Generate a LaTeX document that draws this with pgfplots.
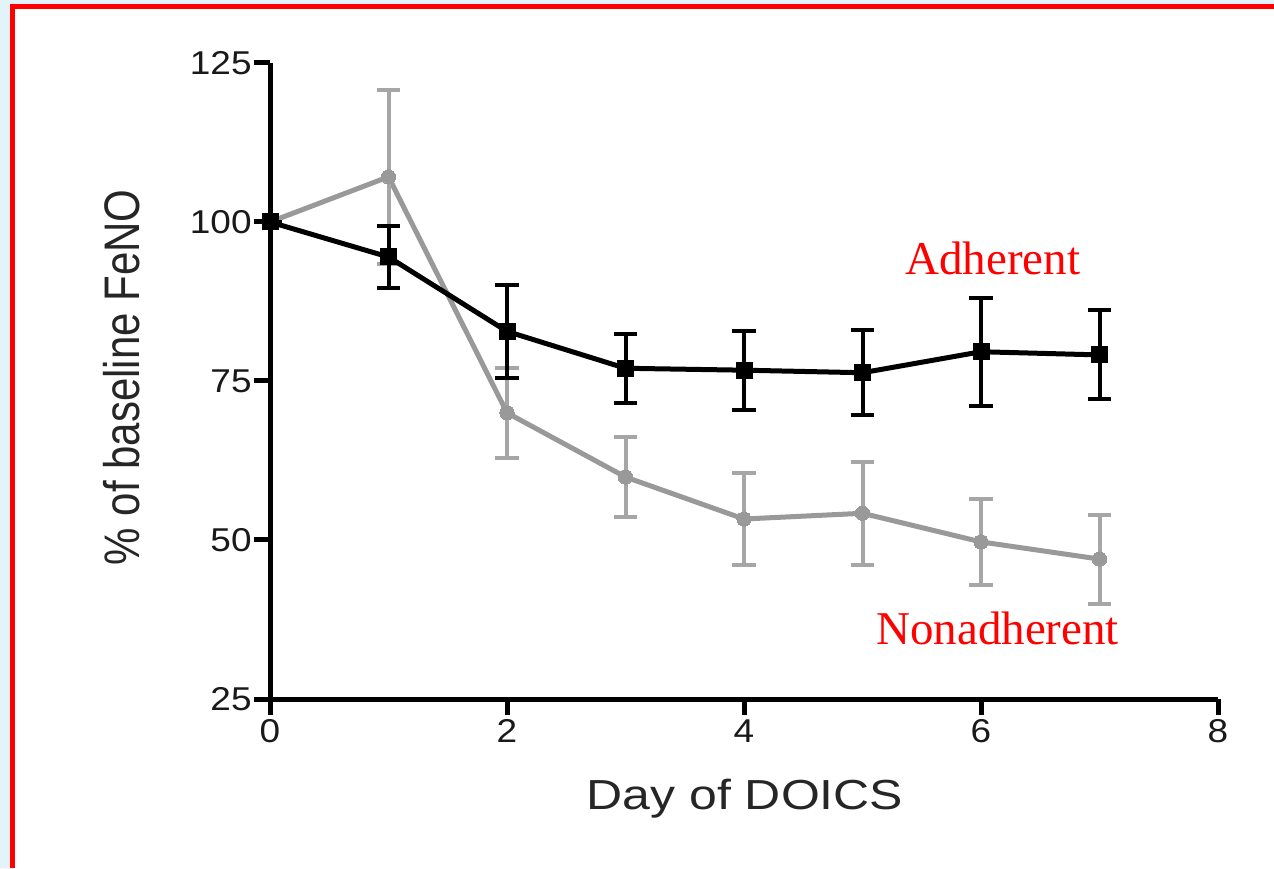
\documentclass[border=0pt]{standalone}
\usepackage{fontspec}
\setmainfont{Liberation Sans}
\newfontfamily\serif{Liberation Serif}
\usepackage{pgfplots}
\pgfplotsset{compat=1.18}
\usepackage{graphicx}

\definecolor{pageblue}{HTML}{E4F3FA}
\definecolor{nonadh}{HTML}{999999}
\definecolor{nonadherr}{HTML}{A6A6A6}

% FeNO as % of baseline: day, mean, error
\pgfplotstableread{
day mean err
0 100.0 0.0
1 94.5 4.9
2 82.8 7.3
3 77.0 5.4
4 76.7 6.2
5 76.3 6.7
6 79.6 8.5
7 79.1 7.0
}\adherent
\pgfplotstableread{
day mean err
0 100.0 0.0
1 107.1 13.7
2 70.0 7.1
3 59.9 6.3
4 53.3 7.2
5 54.2 8.1
6 49.7 6.7
7 47.0 7.0
}\nonadherent

\begin{document}
\begin{tikzpicture}
\useasboundingbox (0,0) rectangle (637pt,434pt);
% page background and frame
\fill[pageblue] (0,0) rectangle (637pt,434pt);
\fill[white] (5pt,0) rectangle (637pt,432pt);
\draw[red, line width=2.6pt] (6.25pt,0) -- (6.25pt,430.75pt) -- (637pt,430.75pt);

\begin{axis}[
  at={(135pt,84.5pt)}, anchor=south west,
  scale only axis, width=474pt, height=318pt,
  xmin=0, xmax=8, ymin=25, ymax=125,
  axis lines=left,
  axis line style={-, black, line width=2.5pt},
  xtick={0,2,4,6,8}, ytick={25,50,75,100,125},
  tick align=outside, major tick length=8pt,
  tick style={black, line width=2.5pt},
  tick label style={font=\fontsize{16.5}{16.5}\selectfont, text=black!90},
  xticklabel={\scalebox{1.12}[1]{\pgfmathprintnumber[assume math mode=true]{\tick}}},
  yticklabel={\scalebox{1.12}[1]{\pgfmathprintnumber[assume math mode=true]{\tick}}},
  yticklabel style={inner sep=1pt},
  xticklabel style={inner sep=2pt},
  xlabel={\scalebox{1.19}[1]{Day of DOICS}},
  ylabel={\scalebox{1}[1.19]{\% of baseline FeNO}},
  label style={font=\fontsize{21}{21}\selectfont, text=black!85},
  xlabel style={at={(axis description cs:0.501,-0.1745)}, anchor=base},
  ylabel style={at={(axis description cs:-0.157,0.506)}, anchor=center},
  clip=false,
]
% nonadherent group (grey)
\addplot[nonadh, line width=2.5pt, mark=*, mark size=3.6pt,
  mark options={fill=nonadh, draw=nonadh, line width=0pt},
  error bars/.cd, y dir=both, y explicit,
  error mark=-,
  error bar style={nonadherr, line width=2pt},
  error mark options={rotate=90, nonadherr, line width=2pt, mark size=5.8pt}]
  table[x=day, y=mean, y error=err] {\nonadherent};
% adherent group (black)
\addplot[black, line width=2.5pt, mark=square*, mark size=4pt,
  mark options={fill=black, draw=black, line width=0pt},
  error bars/.cd, y dir=both, y explicit,
  error mark=-,
  error bar style={black, line width=2pt},
  error mark options={rotate=90, black, line width=2pt, mark size=5.8pt}]
  table[x=day, y=mean, y error=err] {\adherent};

\node[red, font=\serif\fontsize{23.5}{23.5}\selectfont, anchor=base]
  at (axis cs:6.10,91.7) {Adherent};
\node[red, font=\serif\fontsize{23.5}{23.5}\selectfont, anchor=base]
  at (axis cs:6.14,33.5) {Nonadherent};
\end{axis}
\end{tikzpicture}
\end{document}
